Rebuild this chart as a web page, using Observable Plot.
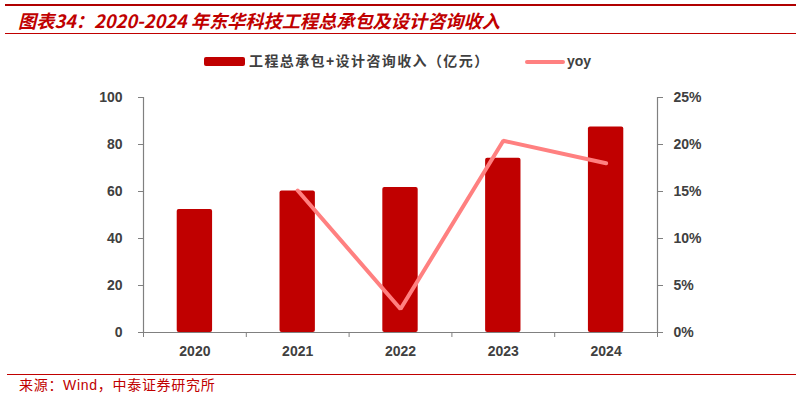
<!DOCTYPE html>
<html><head><meta charset="utf-8">
<script src="https://cdn.jsdelivr.net/npm/d3@7"></script>
<script src="https://cdn.jsdelivr.net/npm/@observablehq/plot@0.6"></script>
<style>
html,body{margin:0;padding:0;background:#fff;}
#wrap{position:relative;width:796px;height:399px;overflow:hidden;font-family:"Noto Sans CJK SC","Liberation Sans",sans-serif;}
#topline{position:absolute;left:5px;right:0;top:4px;height:2px;background:#b00000;}
#title{position:absolute;left:18px;top:7px;font-size:18.2px;font-weight:bold;font-style:italic;color:#c00000;white-space:nowrap;line-height:26px;}
#titleline{position:absolute;left:5px;right:0;top:33px;height:1px;background:#c00000;}
#legend{position:absolute;top:52px;left:0;width:796px;height:18px;font-size:14px;font-weight:bold;color:#404040;font-family:"Liberation Sans","Noto Sans CJK SC",sans-serif;}
.sw{position:absolute;}
.lt{position:absolute;top:0;line-height:18px;white-space:nowrap;}
#footline{position:absolute;left:7px;right:0;top:374px;height:1px;background:#c00000;}
#foot{position:absolute;left:19px;top:376px;font-size:14px;letter-spacing:0.7px;color:#c00000;line-height:18px;white-space:nowrap;font-family:"Liberation Sans","Noto Sans CJK SC",sans-serif;}
#chart{position:absolute;left:0;top:0;}
</style></head>
<body><div id="wrap">
<div id="chart"></div>
<div id="topline"></div>
<div id="title"></div>
<div id="titleline"></div>
<div id="legend"></div>
<div id="footline"></div>
<div id="foot"></div>
</div>
<script>
const titleText = "图表34：2020-2024 年东华科技工程总承包及设计咨询收入";
const sourceText = "来源：Wind，中泰证券研究所";
const years = [2020, 2021, 2022, 2023, 2024];
const revenue = [52.3, 60.2, 61.7, 74.2, 87.5];      // 亿元
const yoy = [null, 15.1, 2.5, 20.4, 18.0];           // %
const seriesNames = ["工程总承包+设计咨询收入（亿元）", "yoy"];
const leftTicks = [0, 20, 40, 60, 80, 100];
const rightTicks = [0, 5, 10, 15, 20, 25];

const barColor = "#c00000";
const lineColor = "#ff8080";
const axisColor = "#808080";
const labelColor = "#404040";

document.getElementById("title").textContent = titleText;
document.getElementById("foot").textContent = sourceText;

// legend
const lg = document.getElementById("legend");
lg.innerHTML = `
<div class="sw" style="left:204px;top:5px;width:41px;height:9px;background:${barColor};border-radius:2px"></div>
<div class="lt" style="left:249px;letter-spacing:1.4px">${seriesNames[0]}</div>
<div class="sw" style="left:525px;top:8px;width:40px;height:4px;background:${lineColor};border-radius:2px"></div>
<div class="lt" style="left:567px">${seriesNames[1]}</div>`;

const bars = years.map((y, i) => ({year: y, value: revenue[i]}));
const line = years.map((y, i) => ({year: y, yoy: yoy[i]})).filter(d => d.yoy != null);
const scaleK = 100 / 25; // right axis 25% maps to left 100
const half = 0.172;      // half bar width in year units
const bounds = d3.range(years[0] - 0.5, years[years.length - 1] + 0.51, 1);

const chart = Plot.plot({
  width: 796,
  height: 399,
  marginTop: 97,
  marginBottom: 67,
  marginLeft: 143,
  marginRight: 139,
  x: {domain: [years[0] - 0.5, years[years.length - 1] + 0.5]},
  y: {domain: [0, 100]},
  style: {fontFamily: "'Liberation Sans', Arial, sans-serif", background: "transparent"},
  marks: [
    Plot.rectY(bars, {x1: d => d.year - half, x2: d => d.year + half, y1: 0, y2: "value", fill: barColor, rx: 2}),
    Plot.line(line, {x: "year", y: d => d.yoy * scaleK, stroke: lineColor, strokeWidth: 4, strokeLinecap: "round", strokeLinejoin: "miter"}),
    Plot.ruleX([bounds[0], bounds[bounds.length - 1]], {stroke: axisColor, strokeWidth: 1.2}),
    Plot.ruleY([0], {stroke: axisColor, strokeWidth: 1.2}),
    Plot.axisY(leftTicks, {anchor: "left", tickSize: 5, tickPadding: 16, stroke: axisColor, fill: labelColor, fontSize: 14, fontWeight: "bold", label: null}),
    Plot.axisY(rightTicks.map(v => v * scaleK), {anchor: "right", tickSize: 5, tickPadding: 11, stroke: axisColor, fill: labelColor, fontSize: 14, fontWeight: "bold", tickFormat: d => (d / scaleK) + "%", label: null}),
    Plot.axisX(bounds, {anchor: "bottom", tickSize: 5, stroke: axisColor, tickFormat: () => "", label: null}),
    Plot.axisX(years, {anchor: "bottom", tickSize: 0, tickPadding: 14, fill: labelColor, fontSize: 14, fontWeight: "bold", tickFormat: d => String(d), label: null})
  ]
});
document.getElementById("chart").appendChild(chart);
</script>
</body></html>
